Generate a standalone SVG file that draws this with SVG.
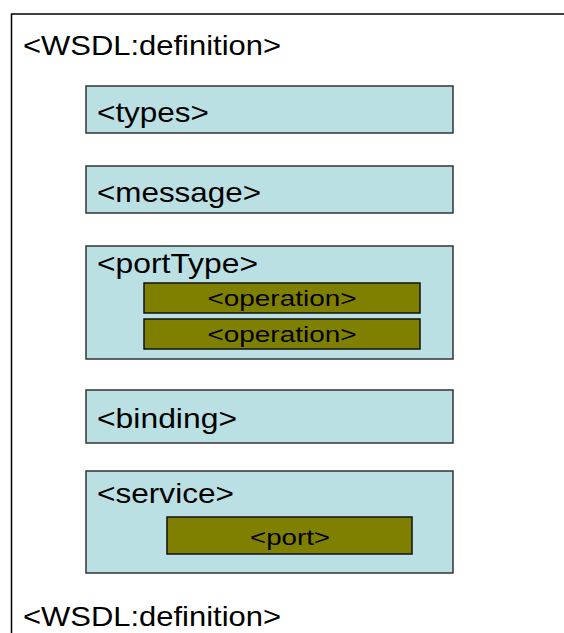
<svg xmlns="http://www.w3.org/2000/svg" width="564" height="633" viewBox="0 0 564 633">
  <style>
    text { font-family: "Liberation Sans", Arial, sans-serif; fill: #000; }
    .big { font-size: 28px; }
    .small { font-size: 22px; }
    .section { fill: #bbe0e3; stroke: #333; stroke-width: 1.5; }
    .item { fill: #808000; stroke: #111; stroke-width: 1.5; }
    .frame { fill: none; stroke: #000; stroke-width: 1.5; }
  </style>
  <rect width="564" height="633" fill="#fff"/>

  <!-- outer definition frame: top and left edges only -->
  <g id="definition">
    <path class="frame" d="M11.5 633 V14 H564"/>
    <text class="big" x="23" y="55" textLength="258" lengthAdjust="spacingAndGlyphs">&lt;WSDL:definition&gt;</text>
    <text class="big" x="23" y="626" textLength="258" lengthAdjust="spacingAndGlyphs">&lt;WSDL:definition&gt;</text>
  </g>

  <g id="types">
    <rect class="section" x="86" y="86" width="367" height="47"/>
    <text class="big" x="97" y="122" textLength="112" lengthAdjust="spacingAndGlyphs">&lt;types&gt;</text>
  </g>

  <g id="message">
    <rect class="section" x="86" y="166" width="367" height="47"/>
    <text class="big" x="97" y="202" textLength="164" lengthAdjust="spacingAndGlyphs">&lt;message&gt;</text>
  </g>

  <g id="portType">
    <rect class="section" x="86" y="246" width="367" height="113"/>
    <text class="big" x="97" y="273" textLength="161" lengthAdjust="spacingAndGlyphs">&lt;portType&gt;</text>
    <g id="operation1">
      <rect class="item" x="144" y="283" width="276" height="30"/>
      <text class="small" x="282" y="306" text-anchor="middle" textLength="149" lengthAdjust="spacingAndGlyphs">&lt;operation&gt;</text>
    </g>
    <g id="operation2">
      <rect class="item" x="144" y="319" width="276" height="30"/>
      <text class="small" x="282" y="342" text-anchor="middle" textLength="149" lengthAdjust="spacingAndGlyphs">&lt;operation&gt;</text>
    </g>
  </g>

  <g id="binding">
    <rect class="section" x="86" y="390" width="367" height="53"/>
    <text class="big" x="97" y="428" textLength="140" lengthAdjust="spacingAndGlyphs">&lt;binding&gt;</text>
  </g>

  <g id="service">
    <rect class="section" x="86" y="471" width="367" height="102"/>
    <text class="big" x="97" y="503" textLength="137" lengthAdjust="spacingAndGlyphs">&lt;service&gt;</text>
    <g id="port">
      <rect class="item" x="167" y="517" width="245" height="37"/>
      <text class="small" x="290" y="545" text-anchor="middle" textLength="80" lengthAdjust="spacingAndGlyphs">&lt;port&gt;</text>
    </g>
  </g>

  <g id="connectors"/>
</svg>
